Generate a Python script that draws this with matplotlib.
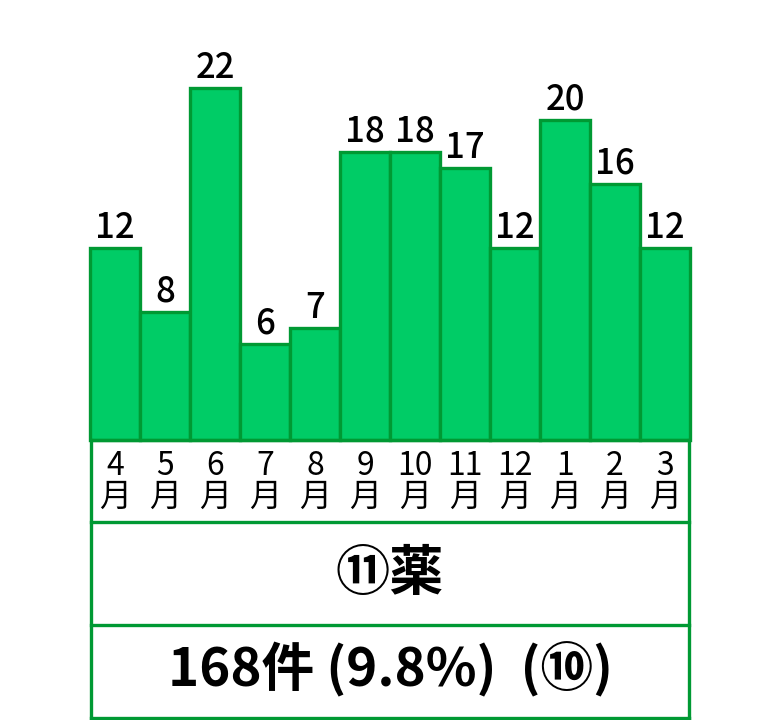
import matplotlib
matplotlib.use("Agg")
import matplotlib.pyplot as plt
from matplotlib.lines import Line2D

plt.rcParams['font.family'] = ['Noto Sans CJK JP', 'DejaVu Sans']

months = ["4", "5", "6", "7", "8", "9", "10", "11", "12", "1", "2", "3"]
values = [12, 8, 22, 6, 7, 18, 18, 17, 12, 20, 16, 12]
title = "⑪薬"
summary = "168件 (9.8%)  (⑩)"

FILL = "#00CC66"
EDGE = "#009933"

W, H = 780, 720
fig = plt.figure(figsize=(W / 100, H / 100), dpi=100)

# bar axes: x from 90 to 690 px, baseline at y=440 px from top
base = 440
ax = fig.add_axes([90 / W, (H - base) / H, 600 / W, base / H])
ax.set_xlim(-0.5, len(values) - 0.5)
ax.set_ylim(0, base / 16.0)
ax.axis("off")
xs = list(range(len(values)))
ax.bar(xs, values, width=1.0, color=FILL, edgecolor=EDGE, linewidth=2.4, clip_on=False)
for x, v in zip(xs, values):
    ax.annotate(str(v), (x, v), xytext=(0, 1.5), textcoords="offset points",
                ha="center", va="bottom", fontsize=25, fontweight="medium", color="black")

# table axes below, in pixel coordinates (y downward)
tax = fig.add_axes([90 / W, 0, 600 / W, (H - base) / H])
tax.set_xlim(-0.5, len(values) - 0.5)
tax.set_ylim(H, base)
tax.axis("off")
lw = 2.4
left, right = -0.49, len(values) - 0.52
for yy in (440, 522, 625, 718):
    tax.add_line(Line2D([left, right], [yy, yy], color=EDGE, linewidth=lw, clip_on=False))
for xx in (left, right):
    tax.add_line(Line2D([xx, xx], [440, 718], color=EDGE, linewidth=lw, clip_on=False))

for x, m in zip(xs, months):
    tax.text(x, 481, f"{m}\n月", ha="center", va="center", fontsize=23,
             linespacing=0.95, color="black")

tax.text((len(values) - 1) / 2, 574, title, ha="center", va="center",
         fontsize=39, fontweight="bold", color="black")
tax.text((len(values) - 1) / 2, 670, summary, ha="center", va="center",
         fontsize=38, fontweight="bold", color="black")

fig.savefig("out.png", dpi=100, facecolor="white")
